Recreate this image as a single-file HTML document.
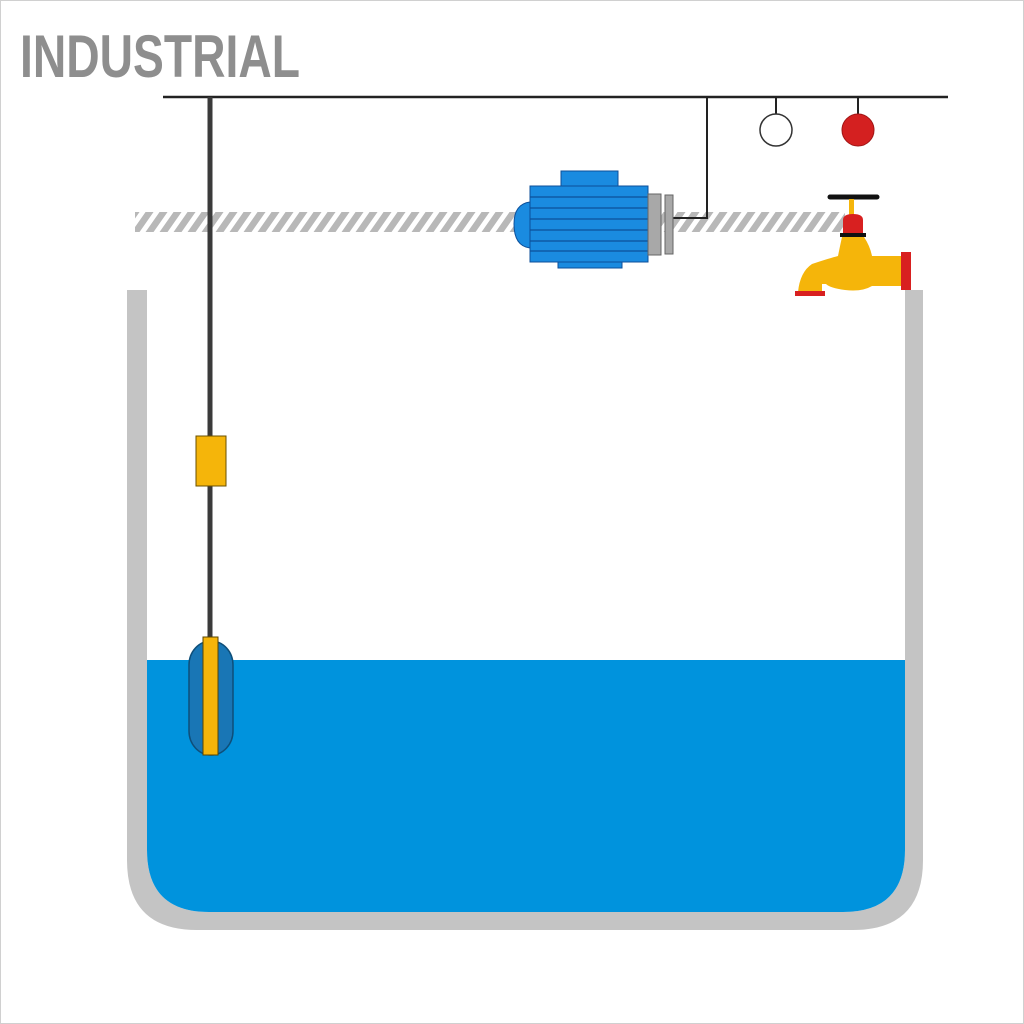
<!DOCTYPE html>
<html><head><style>html,body{margin:0;padding:0;background:#fff}svg{display:block}</style></head>
<body>
<svg width="1024" height="1024" viewBox="0 0 1024 1024" xmlns="http://www.w3.org/2000/svg">
<defs>
<pattern id="h" width="14" height="20" patternUnits="userSpaceOnUse" patternTransform="skewX(-35)">
<rect x="0" y="0" width="8" height="20" fill="#b8b8b8"/>
</pattern>
</defs>
<rect x="0" y="0" width="1024" height="1024" fill="#fff"/>
<rect x="0.5" y="0.5" width="1023" height="1023" fill="none" stroke="#d0d0d0" stroke-width="1"/>
<text x="20" y="77" font-family="Liberation Sans, sans-serif" font-weight="bold" font-size="60" fill="#8e8e8e" textLength="280" lengthAdjust="spacingAndGlyphs">INDUSTRIAL</text>
<!-- tank -->
<path d="M127 290 H147 V850 Q147 912 209 912 H843 Q905 912 905 850 V290 H923 V860 Q923 930 853 930 H197 Q127 930 127 860 Z" fill="#c4c4c4"/>
<path d="M147 660 H905 V850 Q905 912 843 912 H209 Q147 912 147 850 Z" fill="#0093dd"/>
<!-- hatch -->
<rect x="135" y="212" width="710" height="20" fill="url(#h)"/>
<!-- wires -->
<line x1="163" y1="97" x2="948" y2="97" stroke="#222" stroke-width="2.5"/>
<line x1="210" y1="97" x2="210" y2="640" stroke="#3a3a3a" stroke-width="5"/>
<polyline points="673,218 707,218 707,97" fill="none" stroke="#222" stroke-width="2"/>
<line x1="776" y1="97" x2="776" y2="114" stroke="#222" stroke-width="2"/>
<line x1="858" y1="97" x2="858" y2="114" stroke="#222" stroke-width="2"/>
<circle cx="776" cy="130" r="16" fill="#fff" stroke="#333" stroke-width="1.5"/>
<circle cx="858" cy="130" r="16" fill="#d42020" stroke="#a01515" stroke-width="1"/>
<!-- sensor -->
<rect x="196" y="436" width="30" height="50" fill="#f5b50a" stroke="#6a5000" stroke-width="1"/>
<rect x="189" y="641" width="44" height="114" rx="22" ry="24" fill="#1976b5" stroke="#0e4f7a" stroke-width="1.5"/>
<rect x="203" y="637" width="15" height="118" fill="#f5b50a" stroke="#5a4500" stroke-width="1"/>
<!-- motor -->
<path d="M530 202 Q514 204 514 224 Q514 246 530 248 Z" fill="#1a8be0" stroke="#0c4f9a" stroke-width="1"/>
<rect x="561" y="171" width="57" height="16" fill="#1a8be0" stroke="#0c4f9a" stroke-width="1"/>
<rect x="558" y="261" width="64" height="7" fill="#1a8be0" stroke="#0c4f9a" stroke-width="1"/>
<rect x="530" y="186" width="118" height="76" fill="#1a8be0" stroke="#0c4f9a" stroke-width="1"/>
<g stroke="#0c4f9a" stroke-width="1.2">
<line x1="530" y1="197" x2="648" y2="197"/><line x1="530" y1="208" x2="648" y2="208"/>
<line x1="530" y1="219" x2="648" y2="219"/><line x1="530" y1="230" x2="648" y2="230"/>
<line x1="530" y1="241" x2="648" y2="241"/><line x1="530" y1="251" x2="648" y2="251"/>
</g>
<rect x="648" y="194" width="13" height="61" fill="#a8a8a8" stroke="#666" stroke-width="1"/>
<rect x="665" y="195" width="8" height="59" fill="#a8a8a8" stroke="#666" stroke-width="1"/>
<!-- faucet -->
<line x1="830" y1="197" x2="877" y2="197" stroke="#111" stroke-width="5" stroke-linecap="round"/>
<rect x="849" y="199" width="5" height="16" fill="#f5b50a"/>
<path d="M843 234 V220 Q843 214 853 214 Q863 214 863 220 V234 Z" fill="#d82020"/>
<rect x="840" y="233" width="26" height="4" fill="#111"/>
<path d="M842 237 H864 Q870 246 872 256 H902 V286 H872 Q862 292 845 290 Q830 288 826 284 H822 V292 H798 Q800 272 812 264 Q830 258 838 256 Q840 246 842 237 Z" fill="#f5b50a"/>
<rect x="901" y="252" width="10" height="38" fill="#d82020"/>
<rect x="795" y="291" width="30" height="5" fill="#d82020"/>
</svg>
</body></html>
